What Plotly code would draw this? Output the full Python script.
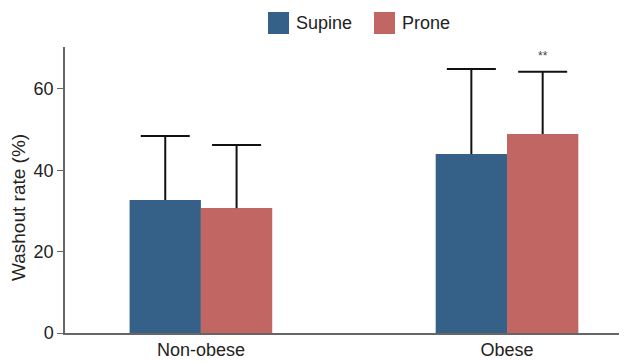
import plotly.graph_objects as go

categories = ["Non-obese", "Obese"]
supine = [32.7, 44.0]
prone = [30.7, 48.9]
supine_err = [15.7, 20.9]
prone_err = [15.5, 15.3]
y_ticks = [0, 20, 40, 60]
sig_label = "**"
sig_y = 68

c_sup = "#356189"
c_pro = "#c26664"
font = "Liberation Sans, Arial, sans-serif"
fs = 18

fig = go.Figure()
for name, vals, errs, col in [("Supine", supine, supine_err, c_sup),
                              ("Prone", prone, prone_err, c_pro)]:
    fig.add_trace(go.Bar(
        x=categories, y=vals, name=name, offsetgroup=name,
        marker=dict(color=col, line=dict(width=0)),
        error_y=dict(type="data", array=errs, arrayminus=[0, 0], symmetric=False,
                     color="#111", thickness=2, width=0),
    ))
    fig.add_trace(go.Scatter(
        x=categories, y=[v + e for v, e in zip(vals, errs)], offsetgroup=name,
        mode="markers", showlegend=False, hoverinfo="skip",
        marker=dict(symbol="line-ew", size=35, line=dict(width=2, color="#111")),
    ))

fig.add_annotation(x=categories[1], y=sig_y, text=sig_label, showarrow=False,
                   xshift=36, font=dict(size=12, color="#444", family=font))

# y-axis title placed as rotated annotation (paper coords relative to plot area 562x286)
fig.add_annotation(xref="paper", yref="paper", x=(18-65)/562, y=(333-208)/286,
                   text="Washout rate (%)", textangle=-90, showarrow=False,
                   xanchor="center", yanchor="middle",
                   font=dict(size=19, color="#222", family=font))

# manual legend
fig.add_shape(type="rect", xref="paper", yref="paper", x0=(268-65)/562, x1=(289-65)/562,
              y0=(333-34)/286, y1=(333-12)/286, fillcolor=c_sup, line=dict(width=0))
fig.add_shape(type="rect", xref="paper", yref="paper", x0=(374-65)/562, x1=(395-65)/562,
              y0=(333-34)/286, y1=(333-12)/286, fillcolor=c_pro, line=dict(width=0))
fig.add_annotation(xref="paper", yref="paper", x=(294-65)/562, y=(333-23)/286, text="Supine",
                   showarrow=False, xanchor="left", yanchor="middle",
                   font=dict(size=fs, color="#222", family=font))
fig.add_annotation(xref="paper", yref="paper", x=(400-65)/562, y=(333-23)/286, text="Prone",
                   showarrow=False, xanchor="left", yanchor="middle",
                   font=dict(size=fs, color="#222", family=font))

fig.update_layout(
    width=619, height=354,
    margin=dict(l=57, r=0, t=39, b=29, pad=0),
    paper_bgcolor="white", plot_bgcolor="white",
    barmode="group", bargap=0.534, bargroupgap=0,
    scattermode="group", scattergap=0.534,
    showlegend=False,
    font=dict(family=font, size=fs, color="#222"),
)
fig.update_xaxes(range=[-0.444, 1.392], showline=True, linecolor="#666", linewidth=1.5,
                 ticks="", showgrid=False, automargin=False,
                 tickfont=dict(size=fs, color="#222"))
fig.update_yaxes(range=[0, 70.3], tickvals=y_ticks, showline=True, linecolor="#666",
                 linewidth=1.5, ticks="outside", ticklen=6, tickcolor="#666",
                 showgrid=False, zeroline=False, automargin=False,
                 tickfont=dict(size=fs, color="#222"))

fig.write_html("out.html")
